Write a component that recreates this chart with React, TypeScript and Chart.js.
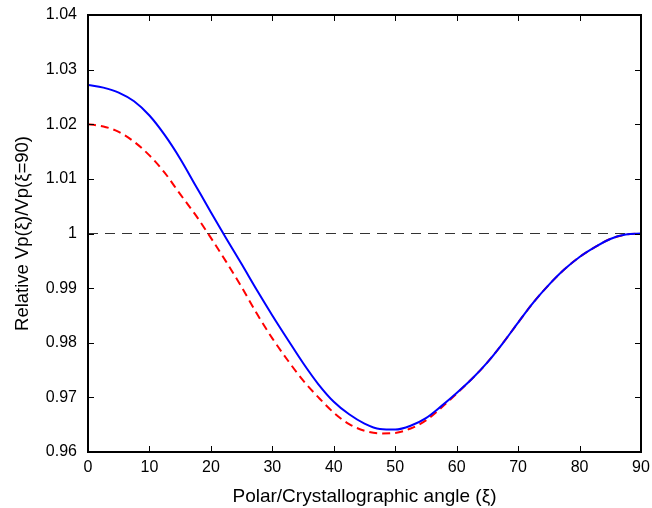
import React, { useEffect, useRef } from "react";
import { Chart, registerables } from "chart.js";

Chart.register(...registerables);

// Polar/crystallographic angle (degrees)
const angles = [
  0, 2.5, 5, 7.5, 10, 12.5, 15, 17.5, 20, 22.5, 25, 27.5, 30, 32.5, 35, 37.5,
  40, 42.5, 45, 47.5, 50, 52.5, 55, 57.5, 60, 62.5, 65, 67.5, 70, 72.5, 75,
  77.5, 80, 82.5, 85, 87.5, 90,
];

// Blue solid curve
const blueValues = [
  1.0272, 1.0267, 1.0258, 1.0242, 1.0216, 1.018, 1.0137, 1.0088, 1.0039,
  0.9991, 0.9944, 0.9896, 0.985, 0.9806, 0.9763, 0.9724, 0.9692, 0.9669,
  0.9652, 0.9642, 0.9641, 0.9648, 0.9662, 0.9684, 0.9708, 0.9734, 0.9764,
  0.9799, 0.9837, 0.9874, 0.9906, 0.9934, 0.9957, 0.9975, 0.999, 0.9998, 1.0,
];

// Red dashed curve
const redValues = [
  1.02, 1.0196, 1.0186, 1.0168, 1.0143, 1.0111, 1.0072, 1.0034, 0.9992,
  0.9948, 0.9902, 0.9853, 0.9808, 0.9768, 0.9731, 0.97, 0.9672, 0.9651,
  0.9639, 0.9634, 0.9635, 0.9643, 0.9658, 0.9681, 0.9707, 0.9734, 0.9764,
  0.9799, 0.9837, 0.9874, 0.9906, 0.9934, 0.9957, 0.9975, 0.999, 0.9998, 1.0,
];

// Reference line at 1
const refAngles = [0, 90];
const refValues = [1, 1];

const xTicks = [0, 10, 20, 30, 40, 50, 60, 70, 80, 90];
const yTicks = [0.96, 0.97, 0.98, 0.99, 1, 1.01, 1.02, 1.03, 1.04];

const FONT = "'Liberation Sans', Arial, Helvetica, sans-serif";

const framePlugin = {
  id: "frameTicks",
  afterDatasetsDraw(chart: any) {
    const { ctx, chartArea, scales } = chart;
    const { left, right, top, bottom } = chartArea;
    const xs = scales.x;
    const ys = scales.y;
    const len = 6;
    ctx.save();
    ctx.strokeStyle = "#000";
    ctx.lineWidth = 1;
    ctx.beginPath();
    for (const v of xTicks) {
      const px = Math.round(xs.getPixelForValue(v)) + 0.5;
      ctx.moveTo(px, bottom);
      ctx.lineTo(px, bottom - len);
      ctx.moveTo(px, top);
      ctx.lineTo(px, top + len);
    }
    for (const v of yTicks) {
      const py = Math.round(ys.getPixelForValue(v)) + 0.5;
      ctx.moveTo(left, py);
      ctx.lineTo(left + len, py);
      ctx.moveTo(right, py);
      ctx.lineTo(right - len, py);
    }
    ctx.stroke();
    ctx.lineWidth = 2;
    ctx.strokeRect(left, top, right - left, bottom - top);
    ctx.restore();
  },
};

const zeroPad = (s: any) => {
  s.paddingLeft = 0;
  s.paddingRight = 0;
  s.paddingTop = 0;
  s.paddingBottom = 0;
};

export default function App() {
  const canvasRef = useRef<HTMLCanvasElement | null>(null);

  useEffect(() => {
    document.body.style.margin = "0";
    const canvas = canvasRef.current;
    if (!canvas) return;
    const toPts = (xsArr: number[], ysArr: number[]) =>
      xsArr.map((x, i) => ({ x, y: ysArr[i] }));

    const chart = new Chart(canvas, {
      type: "line",
      data: {
        datasets: [
          {
            label: "blue",
            data: toPts(angles, blueValues),
            borderColor: "#0000ff",
            borderWidth: 2,
            pointRadius: 0,
            cubicInterpolationMode: "monotone",
            fill: false,
            order: 0,
          },
          {
            label: "red",
            data: toPts(angles, redValues),
            borderColor: "#ff0000",
            borderWidth: 2,
            borderDash: [8, 5],
            pointRadius: 0,
            cubicInterpolationMode: "monotone",
            fill: false,
            order: 1,
          },
          {
            label: "ref",
            data: toPts(refAngles, refValues),
            borderColor: "#333333",
            borderWidth: 1,
            borderDash: [10, 7],
            pointRadius: 0,
            fill: false,
            order: 2,
          },
        ],
      },
      options: {
        responsive: false,
        animation: false,
        events: [],
        layout: { padding: { left: 0, right: 11, top: 15, bottom: 0 } },
        plugins: {
          legend: { display: false },
          tooltip: { enabled: false },
        },
        scales: {
          x: {
            type: "linear",
            min: 0,
            max: 90,
            afterFit: (s: any) => {
              s.height = 56;
              zeroPad(s);
            },
            afterBuildTicks: (s: any) => {
              s.ticks = xTicks.map((v) => ({ value: v }));
            },
            grid: { display: false, drawTicks: false },
            border: { display: false },
            ticks: {
              padding: 6,
              color: "#000",
              font: { family: FONT, size: 16 },
              maxRotation: 0,
              callback: (v: any) => String(v),
            },
            title: {
              display: true,
              text: "Polar/Crystallographic angle (ξ)",
              color: "#000",
              font: { family: FONT, size: 19 },
              padding: { top: 0, bottom: 0 },
            },
          },
          y: {
            type: "linear",
            min: 0.96,
            max: 1.04,
            afterFit: (s: any) => {
              s.width = 88;
              zeroPad(s);
            },
            afterBuildTicks: (s: any) => {
              s.ticks = yTicks.map((v) => ({ value: v }));
            },
            grid: { display: false, drawTicks: false },
            border: { display: false },
            ticks: {
              padding: 11,
              color: "#000",
              font: { family: FONT, size: 16 },
              callback: (v: any) => String(Number(Number(v).toFixed(2))),
            },
            title: {
              display: true,
              text: "Relative Vp(ξ)/Vp(ξ=90)",
              color: "#000",
              font: { family: FONT, size: 18.5 },
              padding: { top: 12, bottom: 0 },
            },
          },
        },
      },
      plugins: [framePlugin],
    });
    return () => chart.destroy();
  }, []);

  return (
    <div style={{ width: 652, height: 508, background: "#fff" }}>
      <canvas ref={canvasRef} width={652} height={508} />
    </div>
  );
}
